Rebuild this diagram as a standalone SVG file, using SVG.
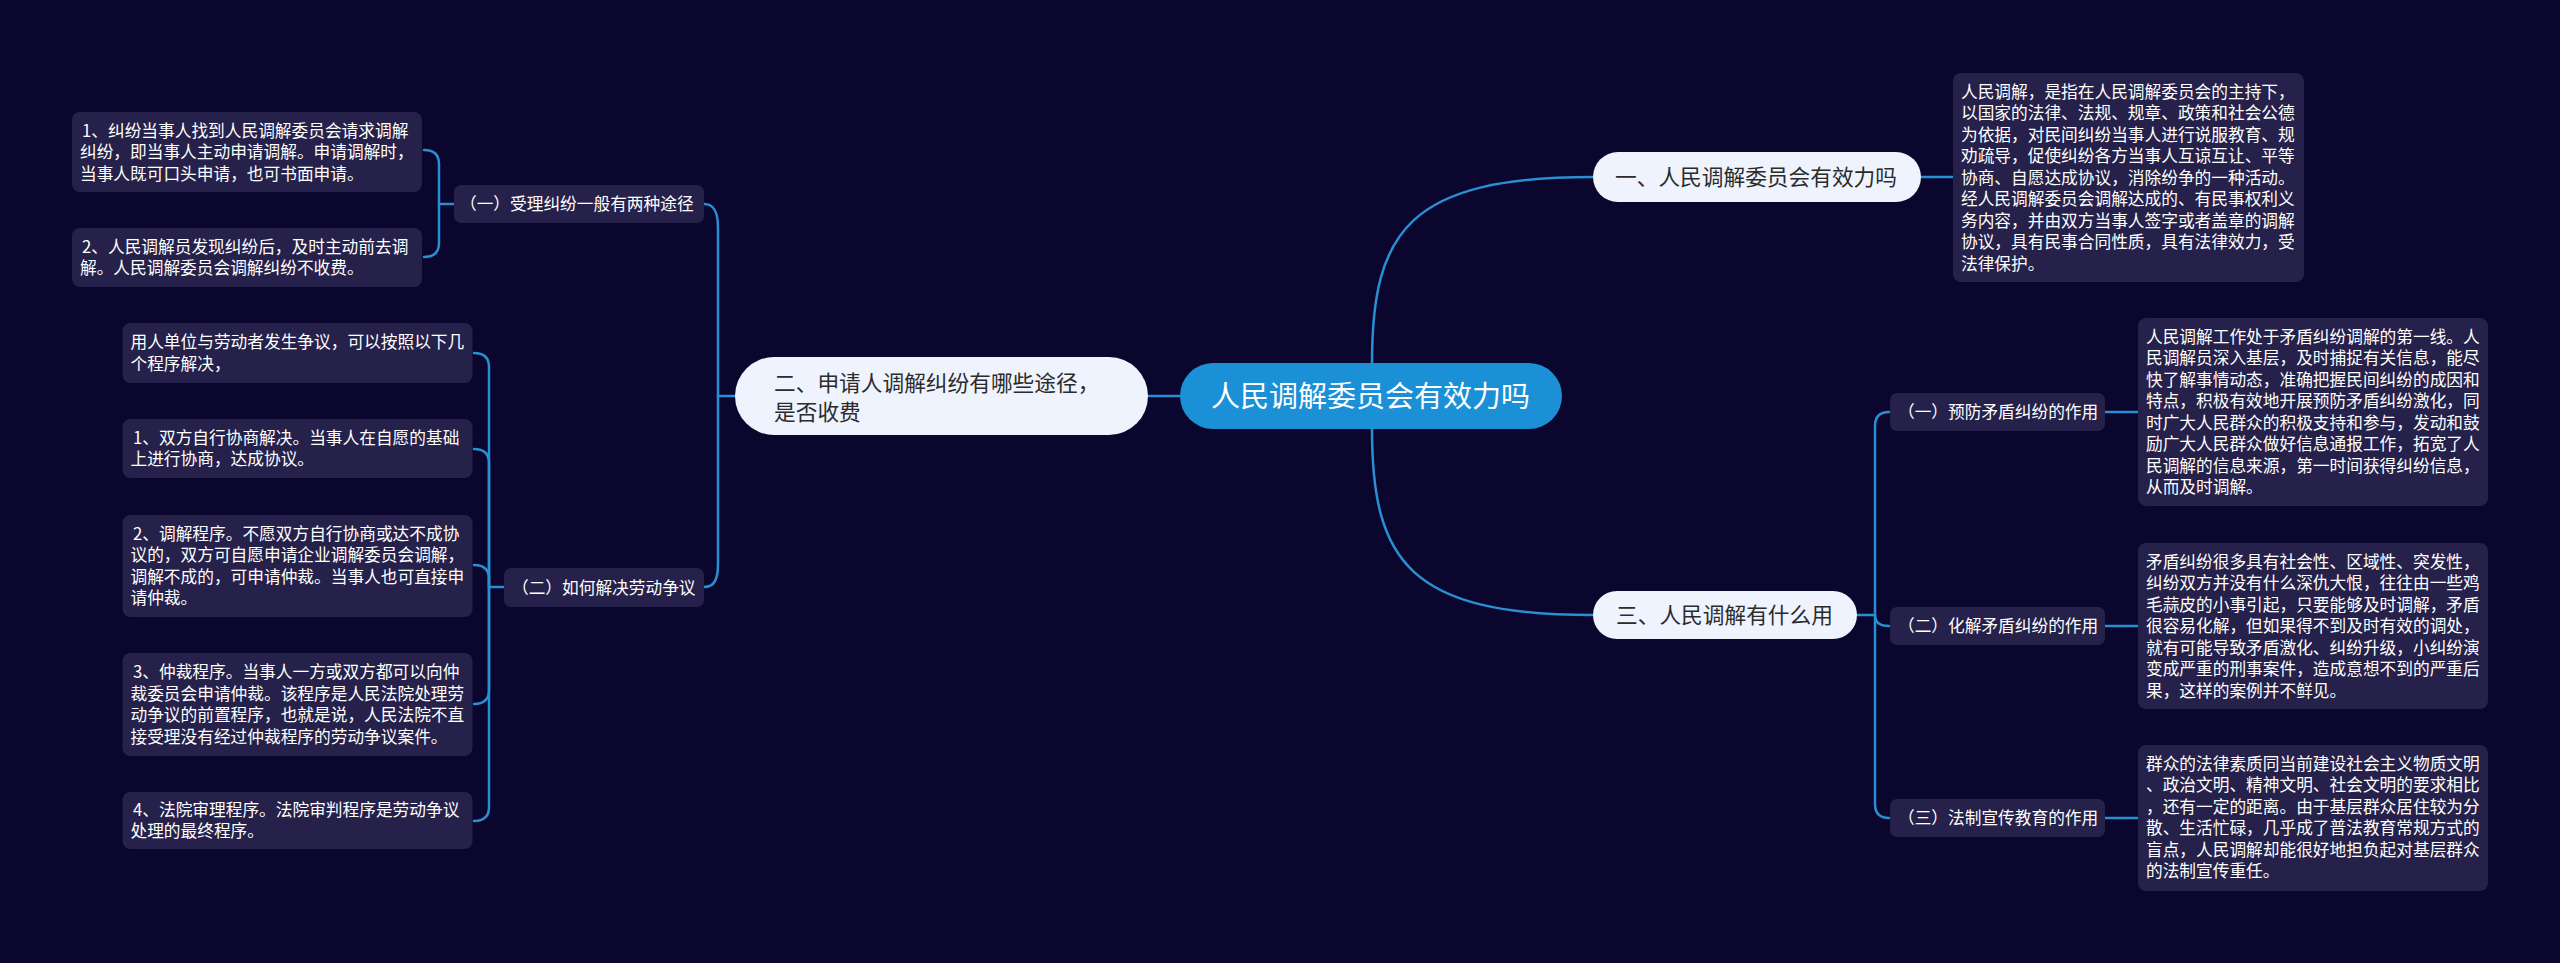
<svg xmlns="http://www.w3.org/2000/svg" width="2560" height="963" viewBox="0 0 2560 963">
<style>
.bg{fill:#0a062e}
.c{fill:none;stroke:#2a8fd2;stroke-width:2.5;stroke-linecap:round}
.box{fill:#26214a}
.br{fill:#eef3fd}
.root{fill:#1b90d6}
.t{font-family:"Noto Sans CJK SC","Noto Sans",sans-serif;font-size:16.7px;fill:#ffffff}
.bt{font-family:"Noto Sans CJK SC","Noto Sans",sans-serif;font-size:21.7px;fill:#2b2b2b}
.rt{font-family:"Noto Sans CJK SC","Noto Sans",sans-serif;font-size:29px;fill:#ffffff}
</style>
<rect class="bg" x="0" y="0" width="2560" height="963"/>
<g id="connectors">
<path class="c" d="M1372 363 C1372 230 1410 177 1593 177"/>
<path class="c" d="M1372 429 C1372 562 1410 615 1593 615"/>
<path class="c" d="M1180 396 H1148"/>
<path class="c" d="M1921 177 H1953"/>
<path class="c" d="M1857 615 H1875"/>
<path class="c" d="M1875 615 V426 Q1875 412 1889 412"/>
<path class="c" d="M1875 615 Q1875 626 1889 626"/>
<path class="c" d="M1875 615 V804 Q1875 818 1889 818"/>
<path class="c" d="M2105 412 H2138"/>
<path class="c" d="M2105 626 H2138"/>
<path class="c" d="M2105 818 H2138"/>
<path class="c" d="M735 396 H718"/>
<path class="c" d="M718 396 V228 C718 212 714 204 704 204"/>
<path class="c" d="M718 396 V564 C718 580 714 587 704 587"/>
<path class="c" d="M454 204 H439"/>
<path class="c" d="M439 204 V164 Q439 150 424 150"/>
<path class="c" d="M439 204 V243 Q439 257 424 257"/>
<path class="c" d="M504 587 H489"/>
<path class="c" d="M489 587 V367 Q489 353 474 353"/>
<path class="c" d="M489 587 V463 Q489 449 474 449"/>
<path class="c" d="M489 587 V579 Q489 565 474 565"/>
<path class="c" d="M489 587 V690 Q489 704 474 704"/>
<path class="c" d="M489 587 V807 Q489 821 474 821"/>
</g>
<g id="root">
<rect class="root" x="1180" y="363" width="382" height="66" rx="33"/>
<text class="rt" x="1211" y="406.5">人民调解委员会有效力吗</text>
</g>
<g id="b1">
<rect class="br" x="1593" y="152" width="328" height="50" rx="25"/>
<text class="bt" x="1615" y="184.8">一、人民调解委员会有效力吗</text>
</g>
<g id="b1-text">
<rect class="box" x="1953" y="73" width="351" height="209" rx="8"/>
<text class="t">
<tspan x="1961" y="97.8">人民调解，是指在人民调解委员会的主持下，</tspan>
<tspan x="1961" y="119.3">以国家的法律、法规、规章、政策和社会公德</tspan>
<tspan x="1961" y="140.8">为依据，对民间纠纷当事人进行说服教育、规</tspan>
<tspan x="1961" y="162.3">劝疏导，促使纠纷各方当事人互谅互让、平等</tspan>
<tspan x="1961" y="183.8">协商、自愿达成协议，消除纷争的一种活动。</tspan>
<tspan x="1961" y="205.3">经人民调解委员会调解达成的、有民事权利义</tspan>
<tspan x="1961" y="226.8">务内容，并由双方当事人签字或者盖章的调解</tspan>
<tspan x="1961" y="248.3">协议，具有民事合同性质，具有法律效力，受</tspan>
<tspan x="1961" y="269.8">法律保护。</tspan>
</text>
</g>
<g id="b3">
<rect class="br" x="1593" y="591" width="264" height="48" rx="24"/>
<text class="bt" x="1616" y="622.8">三、人民调解有什么用</text>
</g>
<g id="b3-1">
<rect class="box" x="1890" y="393" width="215" height="38" rx="7"/>
<text class="t" x="1898" y="418">（一）预防矛盾纠纷的作用</text>
</g>
<g id="b3-1-text">
<rect class="box" x="2138" y="318" width="350" height="188" rx="8"/>
<text class="t">
<tspan x="2146" y="342.8">人民调解工作处于矛盾纠纷调解的第一线。人</tspan>
<tspan x="2146" y="364.3">民调解员深入基层，及时捕捉有关信息，能尽</tspan>
<tspan x="2146" y="385.8">快了解事情动态，准确把握民间纠纷的成因和</tspan>
<tspan x="2146" y="407.3">特点，积极有效地开展预防矛盾纠纷激化，同</tspan>
<tspan x="2146" y="428.8">时广大人民群众的积极支持和参与，发动和鼓</tspan>
<tspan x="2146" y="450.3">励广大人民群众做好信息通报工作，拓宽了人</tspan>
<tspan x="2146" y="471.8">民调解的信息来源，第一时间获得纠纷信息，</tspan>
<tspan x="2146" y="493.3">从而及时调解。</tspan>
</text>
</g>
<g id="b3-2">
<rect class="box" x="1890" y="607" width="215" height="38" rx="7"/>
<text class="t" x="1898" y="632">（二）化解矛盾纠纷的作用</text>
</g>
<g id="b3-2-text">
<rect class="box" x="2138" y="543" width="350" height="166" rx="8"/>
<text class="t">
<tspan x="2146" y="567.8">矛盾纠纷很多具有社会性、区域性、突发性，</tspan>
<tspan x="2146" y="589.3">纠纷双方并没有什么深仇大恨，往往由一些鸡</tspan>
<tspan x="2146" y="610.8">毛蒜皮的小事引起，只要能够及时调解，矛盾</tspan>
<tspan x="2146" y="632.3">很容易化解，但如果得不到及时有效的调处，</tspan>
<tspan x="2146" y="653.8">就有可能导致矛盾激化、纠纷升级，小纠纷演</tspan>
<tspan x="2146" y="675.3">变成严重的刑事案件，造成意想不到的严重后</tspan>
<tspan x="2146" y="696.8">果，这样的案例并不鲜见。</tspan>
</text>
</g>
<g id="b3-3">
<rect class="box" x="1890" y="799" width="215" height="38" rx="7"/>
<text class="t" x="1898" y="824">（三）法制宣传教育的作用</text>
</g>
<g id="b3-3-text">
<rect class="box" x="2138" y="745" width="350" height="146" rx="8"/>
<text class="t">
<tspan x="2146" y="769.8">群众的法律素质同当前建设社会主义物质文明</tspan>
<tspan x="2146" y="791.3">、政治文明、精神文明、社会文明的要求相比</tspan>
<tspan x="2146" y="812.8">，还有一定的距离。由于基层群众居住较为分</tspan>
<tspan x="2146" y="834.3">散、生活忙碌，几乎成了普法教育常规方式的</tspan>
<tspan x="2146" y="855.8">盲点，人民调解却能很好地担负起对基层群众</tspan>
<tspan x="2146" y="877.3">的法制宣传重任。</tspan>
</text>
</g>
<g id="b2">
<rect class="br" x="735" y="357" width="413" height="78" rx="39"/>
<text class="bt">
<tspan x="774" y="390.8">二、申请人调解纠纷有哪些途径，</tspan>
<tspan x="774" y="419.8">是否收费</tspan>
</text>
</g>
<g id="b2-1">
<rect class="box" x="454" y="185" width="250" height="38" rx="7"/>
<text class="t" x="460" y="210">（一）受理纠纷一般有两种途径</text>
</g>
<g id="b2-1-a">
<rect class="box" x="72" y="112" width="350" height="80" rx="8"/>
<text class="t">
<tspan x="82" y="136.8">1、纠纷当事人找到人民调解委员会请求调解</tspan>
<tspan x="80" y="158.3">纠纷，即当事人主动申请调解。申请调解时，</tspan>
<tspan x="80" y="179.8">当事人既可口头申请，也可书面申请。</tspan>
</text>
</g>
<g id="b2-1-b">
<rect class="box" x="72" y="228" width="350" height="59" rx="8"/>
<text class="t">
<tspan x="82" y="252.8">2、人民调解员发现纠纷后，及时主动前去调</tspan>
<tspan x="80" y="274.3">解。人民调解委员会调解纠纷不收费。</tspan>
</text>
</g>
<g id="b2-2">
<rect class="box" x="504" y="568" width="200" height="39" rx="7"/>
<text class="t" x="512" y="593.5">（二）如何解决劳动争议</text>
</g>
<g id="b2-2-a">
<rect class="box" x="122.5" y="323" width="350" height="60" rx="8"/>
<text class="t">
<tspan x="130.5" y="348.3">用人单位与劳动者发生争议，可以按照以下几</tspan>
<tspan x="130.5" y="369.8">个程序解决，</tspan>
</text>
</g>
<g id="b2-2-b">
<rect class="box" x="122.5" y="419" width="350" height="59" rx="8"/>
<text class="t">
<tspan x="133" y="443.8">1、双方自行协商解决。当事人在自愿的基础</tspan>
<tspan x="130.5" y="465.3">上进行协商，达成协议。</tspan>
</text>
</g>
<g id="b2-2-c">
<rect class="box" x="122.5" y="515" width="350" height="102" rx="8"/>
<text class="t">
<tspan x="133" y="539.8">2、调解程序。不愿双方自行协商或达不成协</tspan>
<tspan x="130.5" y="561.3">议的，双方可自愿申请企业调解委员会调解，</tspan>
<tspan x="130.5" y="582.8">调解不成的，可申请仲裁。当事人也可直接申</tspan>
<tspan x="130.5" y="604.3">请仲裁。</tspan>
</text>
</g>
<g id="b2-2-d">
<rect class="box" x="122.5" y="653" width="350" height="103" rx="8"/>
<text class="t">
<tspan x="133" y="678.3">3、仲裁程序。当事人一方或双方都可以向仲</tspan>
<tspan x="130.5" y="699.8">裁委员会申请仲裁。该程序是人民法院处理劳</tspan>
<tspan x="130.5" y="721.3">动争议的前置程序，也就是说，人民法院不直</tspan>
<tspan x="130.5" y="742.8">接受理没有经过仲裁程序的劳动争议案件。</tspan>
</text>
</g>
<g id="b2-2-e">
<rect class="box" x="122.5" y="792" width="350" height="57" rx="8"/>
<text class="t">
<tspan x="133" y="815.8">4、法院审理程序。法院审判程序是劳动争议</tspan>
<tspan x="130.5" y="837.3">处理的最终程序。</tspan>
</text>
</g>
</svg>
